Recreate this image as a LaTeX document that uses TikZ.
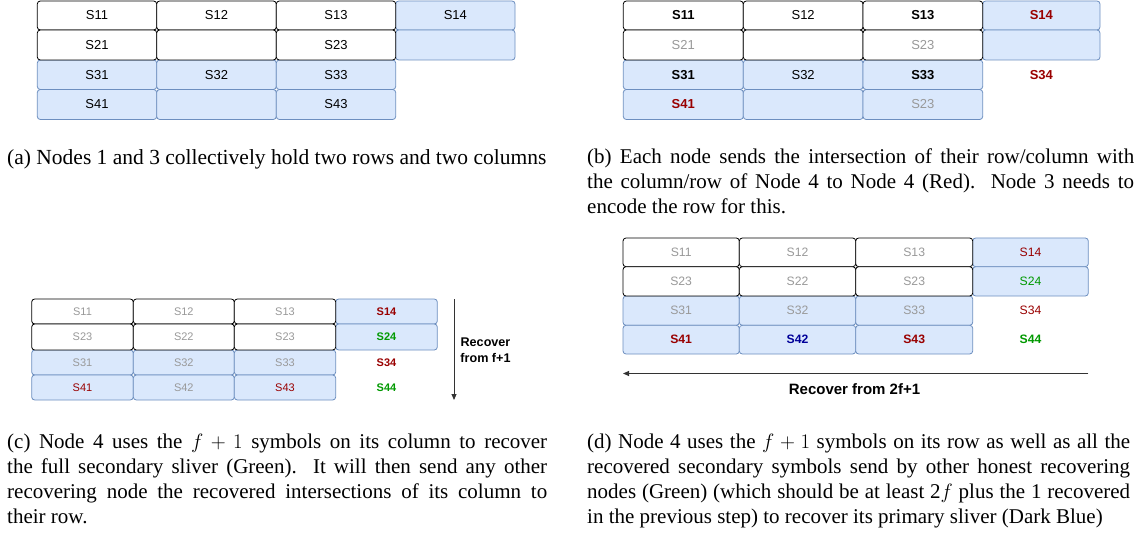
\documentclass[tikz,border=0pt]{standalone}
\usepackage{fontspec}
\setmainfont{Liberation Serif}
\newfontfamily\cellfont{Liberation Sans}
\usetikzlibrary{arrows.meta}
\definecolor{bluefill}{HTML}{DAE8FC}
\definecolor{blueline}{HTML}{6C8EBF}
\definecolor{dred}{HTML}{990000}
\definecolor{dgreen}{HTML}{009900}
\definecolor{dblue}{HTML}{000099}
\definecolor{lgray}{HTML}{999999}
\newcommand\cel[7]{%
  \node[#1, minimum width={(#5-#3)*1pt}, minimum height={(#6-#4)*1pt}] (#2) at ({(#3+#5)/2},{(#4+#6)/2}) {#7};}
\tikzset{
  wcell/.style={draw=black, fill=white, rounded corners=3pt, line width=0.8pt, inner sep=0pt},
  bcell/.style={draw=blueline, fill=bluefill, rounded corners=3pt, line width=0.8pt, inner sep=0pt},
  fa/.style={font=\cellfont\fontsize{13}{15}\selectfont},
  fc/.style={font=\cellfont\fontsize{11}{13}\selectfont},
  fd/.style={font=\cellfont\fontsize{12.2}{14}\selectfont},
  fab/.style={font=\cellfont\bfseries\fontsize{13}{15}\selectfont},
  fcb/.style={font=\cellfont\bfseries\fontsize{11}{13}\selectfont},
  fdb/.style={font=\cellfont\bfseries\fontsize{12.2}{14}\selectfont},
  gr/.style={text=lgray},
  rd/.style={text=dred},
  gn/.style={text=dgreen},
  bl/.style={text=dblue},
  capbox/.style={inner sep=0pt, anchor=north west, font=\fontsize{21}{25}\selectfont, align=justify},
  arr/.style={draw=black!80, line width=0.9pt, -{Triangle[length=6pt,width=5pt]}},
  lbl/.style={font=\cellfont\bfseries, align=center, inner sep=0pt}
}
\begin{document}
\begin{tikzpicture}[x=1pt,y=-1pt]
\useasboundingbox (0,0) rectangle (1142,537);
% ---------- (a)
\cel{bcell,fa}{a14}{395.7}{1}{515}{30}{S14}
\cel{bcell,fa}{a24}{395.7}{30}{515}{60}{}
\cel{bcell,fa}{a31}{37.3}{60}{156.7}{89.5}{S31}
\cel{bcell,fa}{a32}{156.7}{60}{276.3}{89.5}{S32}
\cel{bcell,fa}{a33}{276.3}{60}{395.7}{89.5}{S33}
\cel{bcell,fa}{a41}{37.3}{89.5}{156.7}{119.5}{S41}
\cel{bcell,fa}{a42}{156.7}{89.5}{276.3}{119.5}{}
\cel{bcell,fa}{a43}{276.3}{89.5}{395.7}{119.5}{S43}
\cel{wcell,fa}{a11}{37.3}{1}{156.7}{30}{S11}
\cel{wcell,fa}{a12}{156.7}{1}{276.3}{30}{S12}
\cel{wcell,fa}{a13}{276.3}{1}{395.7}{30}{S13}
\cel{wcell,fa}{a21}{37.3}{30}{156.7}{60}{S21}
\cel{wcell,fa}{a22}{156.7}{30}{276.3}{60}{}
\cel{wcell,fa}{a23}{276.3}{30}{395.7}{60}{S23}
% ---------- (b)
\cel{bcell,fab,rd}{b14}{982.7}{1}{1100}{30}{S14}
\cel{bcell,fa}{b24}{982.7}{30}{1100}{60}{}
\cel{bcell,fab}{b31}{623.3}{60}{743.3}{89.5}{S31}
\cel{bcell,fa}{b32}{743.3}{60}{863}{89.5}{S32}
\cel{bcell,fab}{b33}{863}{60}{982.7}{89.5}{S33}
\cel{bcell,fab,rd}{b41}{623.3}{89.5}{743.3}{119.5}{S41}
\cel{bcell,fa}{b42}{743.3}{89.5}{863}{119.5}{}
\cel{bcell,fa,gr}{b43}{863}{89.5}{982.7}{119.5}{S23}
\cel{wcell,fab}{b11}{623.3}{1}{743.3}{30}{S11}
\cel{wcell,fa}{b12}{743.3}{1}{863}{30}{S12}
\cel{wcell,fab}{b13}{863}{1}{982.7}{30}{S13}
\cel{wcell,fa,gr}{b21}{623.3}{30}{743.3}{60}{S21}
\cel{wcell,fa}{b22}{743.3}{30}{863}{60}{}
\cel{wcell,fa,gr}{b23}{863}{30}{982.7}{60}{S23}
\node[fab,rd] (b34) at (1041.3,74.7) {S34};
% ---------- (c)
\cel{bcell,fcb,rd}{c14}{335.7}{299}{437.3}{324}{S14}
\cel{bcell,fcb,gn}{c24}{335.7}{324}{437.3}{350}{S24}
\cel{bcell,fc,gr}{c31}{31.7}{350}{133.3}{375}{S31}
\cel{bcell,fc,gr}{c32}{133.3}{350}{234.3}{375}{S32}
\cel{bcell,fc,gr}{c33}{234.3}{350}{335.7}{375}{S33}
\cel{bcell,fc,rd}{c41}{31.7}{375}{133.3}{400}{S41}
\cel{bcell,fc,gr}{c42}{133.3}{375}{234.3}{400}{S42}
\cel{bcell,fc,rd}{c43}{234.3}{375}{335.7}{400}{S43}
\cel{wcell,fc,gr}{c11}{31.7}{299}{133.3}{324}{S11}
\cel{wcell,fc,gr}{c12}{133.3}{299}{234.3}{324}{S12}
\cel{wcell,fc,gr}{c13}{234.3}{299}{335.7}{324}{S13}
\cel{wcell,fc,gr}{c21}{31.7}{324}{133.3}{350}{S23}
\cel{wcell,fc,gr}{c22}{133.3}{324}{234.3}{350}{S22}
\cel{wcell,fc,gr}{c23}{234.3}{324}{335.7}{350}{S23}
\node[fcb,rd] (c34) at (386.5,362.5) {S34};
\node[fcb,gn] (c44) at (386.5,387.5) {S44};
\coordinate (ca1) at (454,299);
\coordinate (ca2) at (454,400);
\draw[arr] (ca1) -- (ca2);
\node[lbl, font=\cellfont\bfseries\fontsize{12.6}{16.3}\selectfont] (cl) at (485.5,350.5) {Recover\\from f+1};
% ---------- (d)
\cel{bcell,fd,rd}{d14}{972.7}{238}{1088.3}{266.7}{S14}
\cel{bcell,fd,gn}{d24}{972.7}{266.7}{1088.3}{296}{S24}
\cel{bcell,fd,gr}{d31}{623}{296}{739.3}{325.3}{S31}
\cel{bcell,fd,gr}{d32}{739.3}{296}{855.7}{325.3}{S32}
\cel{bcell,fd,gr}{d33}{855.7}{296}{972.7}{325.3}{S33}
\cel{bcell,fdb,rd}{d41}{623}{325.3}{739.3}{354}{S41}
\cel{bcell,fdb,bl}{d42}{739.3}{325.3}{855.7}{354}{S42}
\cel{bcell,fdb,rd}{d43}{855.7}{325.3}{972.7}{354}{S43}
\cel{wcell,fd,gr}{d11}{623}{238}{739.3}{266.7}{S11}
\cel{wcell,fd,gr}{d12}{739.3}{238}{855.7}{266.7}{S12}
\cel{wcell,fd,gr}{d13}{855.7}{238}{972.7}{266.7}{S13}
\cel{wcell,fd,gr}{d21}{623}{266.7}{739.3}{296}{S23}
\cel{wcell,fd,gr}{d22}{739.3}{266.7}{855.7}{296}{S22}
\cel{wcell,fd,gr}{d23}{855.7}{266.7}{972.7}{296}{S23}
\node[fd,rd] (d34) at (1030.5,310.7) {S34};
\node[fdb,gn] (d44) at (1030.5,339.7) {S44};
\coordinate (da1) at (1088.3,373.5);
\coordinate (da2) at (623,373.5);
\draw[arr] (da1) -- (da2);
\node[lbl, font=\cellfont\bfseries\fontsize{15}{18}\selectfont] (dl) at (854.5,389) {Recover from 2f+1};
% ---------- captions
\node[capbox, align=left, font=\fontsize{21.5}{25}\selectfont] (capa) at (7,149) {(a) Nodes 1 and 3 collectively hold two rows and two columns};
\node[capbox, text width=547pt] (capb) at (587,149) {(b) Each node sends the intersection of their row/column with\linebreak the column/row of Node 4 to Node 4 (Red).\ \ Node 3 needs to\linebreak encode the row for this.};
\node[capbox, text width=540pt] (capc) at (7,434) {(c) Node 4 uses the $f+1$ symbols on its column to recover\linebreak the full secondary sliver (Green).\ \ It will then send any other\linebreak recovering node the recovered intersections of its column to\linebreak their row.};
\node[capbox, text width=543pt] (capd) at (587,434) {(d) Node 4 uses the $f+1$ symbols on its row as well as all the\linebreak recovered secondary symbols send by other honest recovering\linebreak nodes (Green) (which should be at least 2$f$ plus the 1 recovered\linebreak in the previous step) to recover its primary sliver (Dark Blue)};
\end{tikzpicture}
\end{document}
